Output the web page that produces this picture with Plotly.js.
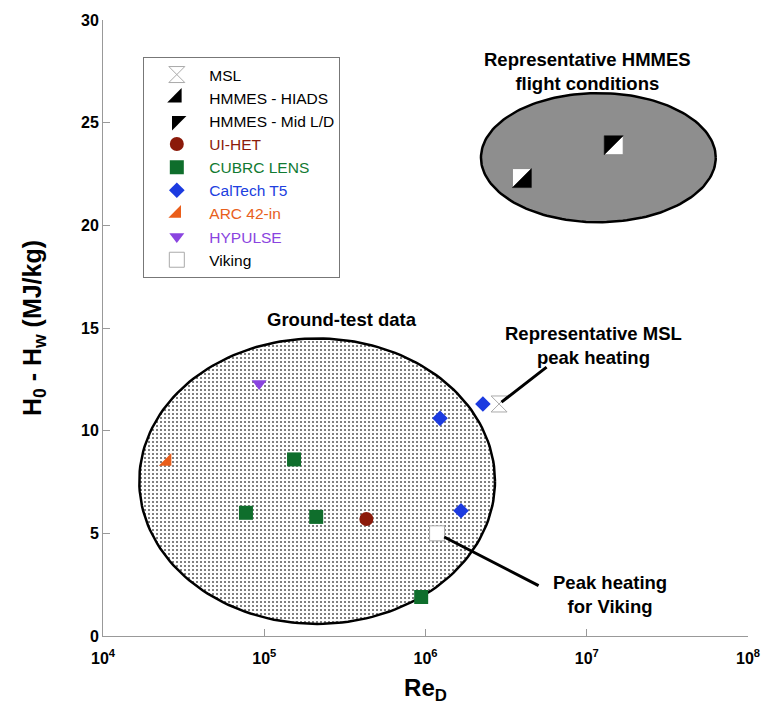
<!DOCTYPE html>
<html><head><meta charset="utf-8">
<script src="https://cdn.plot.ly/plotly-3.0.1.min.js"></script>
<style>html,body{margin:0;padding:0;background:#fff}#chart{width:763px;height:713px}</style>
</head><body><div id="chart"></div>
<script>
// ---- data (Re_D, H0 - Hw in MJ/kg) ----
const mslRe = [2.86e6];            const mslH = [11.3];
const hiadsRe = [3.96e6];          const hiadsH = [22.3];
const midldRe = [1.47e7];          const midldH = [23.9];
const uihetRe = [4.3e5];           const uihetH = [5.7];
const cubrcRe = [7.7e4, 1.53e5, 2.1e5, 9.4e5];  const cubrcH = [6.0, 8.6, 5.8, 1.9];
const caltechRe = [1.23e6, 2.27e6, 1.66e6];     const caltechH = [10.6, 11.3, 6.1];
const arcRe = [2.5e4];             const arcH = [8.5];
const hypulseRe = [9.3e4];         const hypulseH = [12.3];
const vikingRe = [1.18e6];         const vikingH = [5.0];

const xTickVals = [1e4, 1e5, 1e6, 1e7, 1e8];
const xTickText = ['10<sup>4</sup>', '10<sup>5</sup>', '10<sup>6</sup>', '10<sup>7</sup>', '10<sup>8</sup>'];
const yTickVals = [0, 5, 10, 15, 20, 25, 30];
const xRange = [4, 8];   // log10
const yRange = [0, 30];

// region outlines (log10 Re centre/radius, H centre/radius)
const groundRegion = {cx: 5.328, rx: 1.103, cy: 7.54, ry: 6.95};
const flightRegion = {cx: 7.072, rx: 0.728, cy: 23.295, ry: 3.145};

const FONT = 'Liberation Sans, Arial, sans-serif';

function ellipse(r) {
  const ex = [], ey = [];
  for (let i = 0; i <= 180; i++) {
    const t = 2 * Math.PI * i / 180;
    ex.push(Math.pow(10, r.cx + r.rx * Math.cos(t)));
    ey.push(r.cy + r.ry * Math.sin(t));
  }
  return {ex, ey};
}
const gE = ellipse(groundRegion), fE = ellipse(flightRegion);

// paper-fraction position of a data point (through the axis ranges)
const px = re => (Math.log10(re) - xRange[0]) / (xRange[1] - xRange[0]);
const py = h => (h - yRange[0]) / (yRange[1] - yRange[0]);

const traces = [
  {x: gE.ex, y: gE.ey, type: 'scatter', mode: 'lines', fill: 'toself', showlegend: false, hoverinfo: 'skip',
   line: {color: '#000', width: 2.5}, fillcolor: '#fff',
   fillpattern: {shape: '.', fgcolor: '#555', bgcolor: '#fff', size: 4, solidity: 0.2}},
  {x: fE.ex, y: fE.ey, type: 'scatter', mode: 'lines', fill: 'toself', showlegend: false, hoverinfo: 'skip',
   line: {color: '#000', width: 2.5}, fillcolor: '#8e8e8e'},
  {x: mslRe, y: mslH, name: 'MSL', type: 'scatter', mode: 'markers',
   marker: {symbol: 'hourglass', size: 16, color: '#fff', line: {color: '#aaa', width: 1}}},
  // half-filled squares: drawn in the plot by the split-square shapes below; the trace gives the legend key
  {x: hiadsRe, y: hiadsH, name: 'HMMES - HIADS', type: 'scatter', mode: 'markers',
   selectedpoints: [], unselected: {marker: {opacity: 0}},
   marker: {symbol: 'triangle-se', size: 16, color: '#000', line: {width: 0}}},
  {x: midldRe, y: midldH, name: 'HMMES - Mid L/D', type: 'scatter', mode: 'markers',
   selectedpoints: [], unselected: {marker: {opacity: 0}},
   marker: {symbol: 'triangle-nw', size: 16, color: '#000', line: {width: 0}}},
  {x: uihetRe, y: uihetH, name: '<span style="color:#8b1a0a">UI-HET</span>', type: 'scatter', mode: 'markers',
   marker: {symbol: 'circle', size: 14, color: '#8b1a0a'}},
  {x: cubrcRe, y: cubrcH, name: '<span style="color:#117a32">CUBRC LENS</span>', type: 'scatter', mode: 'markers',
   marker: {symbol: 'square', size: 14, color: '#0f6e2c'}},
  {x: caltechRe, y: caltechH, name: '<span style="color:#2040e0">CalTech T5</span>', type: 'scatter', mode: 'markers',
   marker: {symbol: 'diamond', size: 12, color: '#1c3be0'}},
  {x: arcRe, y: arcH, name: '<span style="color:#e8601c">ARC 42-in</span>', type: 'scatter', mode: 'markers',
   marker: {symbol: 'triangle-se', size: 14, color: '#ea5e1a'}},
  {x: hypulseRe, y: hypulseH, name: '<span style="color:#8a44e0">HYPULSE</span>', type: 'scatter', mode: 'markers',
   marker: {symbol: 'triangle-down', size: 13, color: '#8a44e0'}},
  {x: vikingRe, y: vikingH, name: 'Viking', type: 'scatter', mode: 'markers',
   marker: {symbol: 'square', size: 15, color: '#fff', line: {color: '#aaa', width: 1}}}
];

const half = 9.5;
function splitSquare(re, h, corner) {
  const base = {type: 'path', xref: 'paper', yref: 'paper', xsizemode: 'pixel', ysizemode: 'pixel',
    xanchor: px(re), yanchor: py(h), layer: 'above'};
  return [
    Object.assign({}, base, {
      path: `M${-half},${-half} L${half},${-half} L${half},${half} L${-half},${half} Z`,
      fillcolor: '#fff', line: {color: '#888', width: 1}}),
    Object.assign({}, base, {
      path: corner === 'se'
        ? `M${half},${half} L${half},${-half} L${-half},${-half} Z`
        : `M${-half},${-half} L${-half},${half} L${half},${half} Z`,
      fillcolor: '#000', line: {color: '#000', width: 0.5}})
  ];
}
const shapes = [...splitSquare(hiadsRe[0], hiadsH[0], 'se'), ...splitSquare(midldRe[0], midldH[0], 'nw')];

const annFont = {family: FONT, size: 18.5, color: '#000', weight: 'bold'};
const annotations = [
  {xref: 'paper', yref: 'paper', x: 0.7505, y: 0.917, xanchor: 'center', yanchor: 'middle',
   text: 'Representative HMMES<br>flight conditions', showarrow: false, font: annFont, align: 'center'},
  {xref: 'paper', yref: 'paper', x: 0.3708, y: 0.513, xanchor: 'center', yanchor: 'middle',
   text: 'Ground-test data', showarrow: false, font: annFont, align: 'center'},
  {xref: 'paper', yref: 'paper', x: 0.760, y: 0.4724, xanchor: 'center', yanchor: 'middle',
   text: 'Representative MSL<br>peak heating', showarrow: false, font: annFont, align: 'center'},
  {xref: 'paper', yref: 'paper', x: 0.786, y: 0.068, xanchor: 'center', yanchor: 'middle',
   text: 'Peak heating<br>for Viking', showarrow: false, font: annFont, align: 'center'},
  // leader lines
  {xref: 'paper', yref: 'paper', x: px(mslRe[0]), y: py(mslH[0]), text: '', showarrow: true,
   arrowhead: 0, arrowwidth: 3, arrowcolor: '#000', ax: 49, ay: -38, standoff: 3},
  {xref: 'paper', yref: 'paper', x: px(vikingRe[0]), y: py(vikingH[0]), text: '', showarrow: true,
   arrowhead: 0, arrowwidth: 3, arrowcolor: '#000', ax: 103, ay: 53, standoff: 8}
];

const layout = {
  width: 763, height: 713,
  margin: {l: 103, r: 15, t: 20, b: 77},
  paper_bgcolor: '#fff', plot_bgcolor: '#fff',
  font: {family: FONT, color: '#000'},
  showlegend: true,
  legend: {x: 0.0625, y: 0.94, xanchor: 'left', yanchor: 'top', bgcolor: '#fff',
           bordercolor: '#777', borderwidth: 1, itemwidth: 55,
           font: {family: FONT, size: 15.5, color: '#000'}, traceorder: 'normal'},
  xaxis: {type: 'log', range: xRange, tickvals: xTickVals, ticktext: xTickText,
          ticks: 'inside', ticklen: 7, tickcolor: '#999', showline: true, linecolor: '#999', linewidth: 1,
          showgrid: false, zeroline: false, mirror: false, ticklabelstandoff: 8,
          tickfont: {family: FONT, size: 16, color: '#000', weight: 'bold'},
          title: {text: 'Re<sub>D</sub>', font: {family: FONT, size: 24, color: '#000', weight: 'bold'}, standoff: 12}},
  yaxis: {range: yRange, tickvals: yTickVals,
          ticks: 'inside', ticklen: 7, tickcolor: '#999', showline: true, linecolor: '#999', linewidth: 1,
          showgrid: false, zeroline: false, mirror: false,
          tickfont: {family: FONT, size: 16, color: '#000', weight: 'bold'},
          title: {text: 'H<sub>0</sub> - H<sub>w</sub> (MJ/kg)', font: {family: FONT, size: 25, color: '#000', weight: 'bold'}, standoff: 32}},
  shapes: shapes,
  annotations: annotations
};

Plotly.newPlot('chart', traces, layout, {displayModeBar: false, staticPlot: true});
</script>
</body></html>
